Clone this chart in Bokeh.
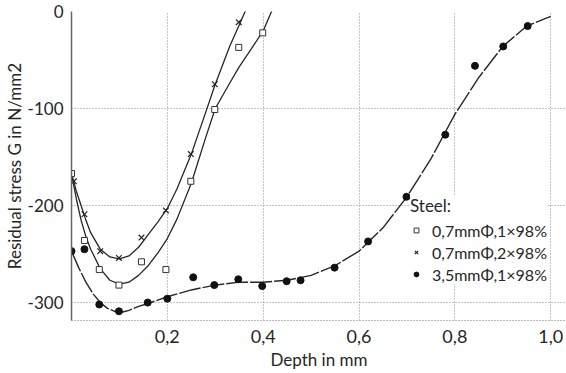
from bokeh.plotting import figure
from bokeh.models import Legend, LegendItem, FixedTicker, Range1d
from bokeh.embed import file_html
from bokeh.resources import INLINE

FONT = "Lato"
INK = "#262626"

# Measured points: 0.7 mm shot, 1x98 % coverage (squares)
sq_x = [0.0, 0.027, 0.058, 0.099, 0.146, 0.197, 0.249, 0.299, 0.349, 0.399]
sq_y = [-167, -236, -266, -282, -258, -266, -175, -101, -37, -22]
# Measured points: 0.7 mm shot, 2x98 % coverage (crosses)
cr_x = [0.005, 0.027, 0.060, 0.099, 0.146, 0.197, 0.249, 0.299, 0.349]
cr_y = [-175, -209, -247, -254, -233, -205, -147, -75, -11]
# Measured points: 3.5 mm shot, 1x98 % coverage (dots)
dot_x = [0.0, 0.027, 0.058, 0.099, 0.159, 0.200, 0.254, 0.298, 0.348, 0.398,
         0.449, 0.478, 0.549, 0.619, 0.699, 0.780, 0.842, 0.901, 0.952]
dot_y = [-247, -245, -302, -309, -300, -296, -274, -282, -276, -283,
         -278, -277, -264, -237, -191, -127, -56, -36, -15]

# Hand-drawn fit curves
sq_cx = [0.0, 0.01, 0.02, 0.03, 0.04, 0.06, 0.08, 0.10, 0.12, 0.14, 0.16, 0.18,
         0.20, 0.22, 0.25, 0.28, 0.30, 0.33, 0.35, 0.38, 0.40, 0.42]
sq_cy = [-167, -193, -215, -232, -245, -265, -277, -281, -279, -272, -262, -249,
         -234, -214, -177, -130, -100, -74, -57, -35, -20, 3]
cr_cx = [0.0, 0.01, 0.02, 0.03, 0.04, 0.06, 0.08, 0.10, 0.12, 0.14, 0.16, 0.18,
         0.20, 0.22, 0.25, 0.28, 0.30, 0.33, 0.35, 0.365]
cr_cy = [-167, -185, -200, -215, -228, -245, -253, -255, -252, -243, -230, -217,
         -203, -183, -147, -104, -75, -36, -14, 3]
dot_cx = [0.0, 0.015, 0.03, 0.045, 0.06, 0.075, 0.09, 0.105, 0.12, 0.14, 0.16, 0.20,
          0.25, 0.30, 0.35, 0.40, 0.45, 0.50, 0.55, 0.60, 0.65, 0.70, 0.75, 0.80,
          0.85, 0.90, 0.95, 1.00]
dot_cy = [-247, -264, -279, -291, -300, -306, -309, -310, -308, -304, -301, -294,
          -287, -282, -279, -279, -277, -272, -262, -247, -223, -191, -152, -106,
          -68, -36, -15, -5]

x_ticks = [0.2, 0.4, 0.6, 0.8, 1.0]
x_labels = ["0,2", "0,4", "0,6", "0,8", "1,0"]
y_ticks = [-300, -200, -100, 0]
y_labels = ["-300", "-200", "-100", "0"]

legend_title = "Steel:"
legend_labels = ["0,7mmΦ,1×98%", "0,7mmΦ,2×98%", "3,5mmΦ,1×98%"]

p = figure(width=566, height=373, output_backend="svg", toolbar_location=None,
           x_range=Range1d(0, 1.033), y_range=Range1d(-318.5, 0),
           min_border_left=70, min_border_right=0, min_border_top=11,
           min_border_bottom=53)
p.outline_line_color = None
p.background_fill_color = "white"

# grid
for g in (p.xgrid, p.ygrid):
    g.grid_line_color = "#8a8a8a"
    g.grid_line_dash = "1 2"
    g.grid_line_width = 1
p.xgrid.ticker = FixedTicker(ticks=x_ticks)
p.ygrid.ticker = FixedTicker(ticks=y_ticks)

# axes
p.xaxis.ticker = FixedTicker(ticks=x_ticks)
p.xaxis.major_label_overrides = dict(zip(x_ticks, x_labels))
p.yaxis.ticker = FixedTicker(ticks=y_ticks)
p.yaxis.major_label_overrides = dict(zip(y_ticks, y_labels))
for ax in (p.xaxis, p.yaxis):
    ax.major_tick_line_color = None
    ax.minor_tick_line_color = None
    ax.major_label_text_font = FONT
    ax.major_label_text_color = INK
    ax.axis_label_text_font = FONT
    ax.axis_label_text_font_style = "normal"
    ax.axis_label_text_color = INK
p.xaxis.major_label_text_font_size = "18px"
p.yaxis.major_label_text_font_size = "17px"
p.xaxis.axis_label_text_font_size = "17px"
p.yaxis.axis_label_text_font_size = "17px"
p.xaxis.major_label_standoff = 3
p.yaxis.major_label_standoff = 2
p.xaxis.axis_label = "Depth in mm"
p.yaxis.axis_label = "Residual stress G in N/mm2"
p.xaxis.axis_label_standoff = 3
p.yaxis.axis_label_standoff = 0
p.xaxis.axis_line_color = "#777777"
p.xaxis.axis_line_dash = "1 2"
p.yaxis.axis_line_color = "#666666"
p.yaxis.axis_line_width = 1.5

# curves
p.line(sq_cx, sq_cy, line_color=INK, line_width=1.3)
p.line(cr_cx, cr_cy, line_color=INK, line_width=1.3)
p.line(dot_cx, dot_cy, line_color=INK, line_width=1.4, line_dash="22 2")

# markers
r_sq = p.scatter(sq_x, sq_y, marker="square", size=6, fill_color="white",
                 line_color="#333333", line_width=1)
r_cr = p.scatter(cr_x, cr_y, marker="x", size=8, line_color="#222222", line_width=1.2)
r_dot = p.scatter(dot_x, dot_y, marker="circle", size=7, fill_color="#111111",
                  line_color="#111111")

legend = Legend(items=[LegendItem(label=legend_labels[0], renderers=[r_sq]),
                       LegendItem(label=legend_labels[1], renderers=[r_cr]),
                       LegendItem(label=legend_labels[2], renderers=[r_dot])],
                location=(339, 36), title=legend_title,
                title_text_font=FONT, title_text_font_size="17px",
                title_text_font_style="normal", title_text_color=INK,
                title_standoff=4,
                label_text_font=FONT, label_text_font_size="16px",
                label_text_color=INK, label_standoff=10,
                glyph_width=12, glyph_height=20, label_height=20, spacing=2,
                padding=0, margin=0, border_line_color=None,
                background_fill_color="white", background_fill_alpha=1.0)
p.add_layout(legend)

open("out.html", "w").write(file_html(p, INLINE))
